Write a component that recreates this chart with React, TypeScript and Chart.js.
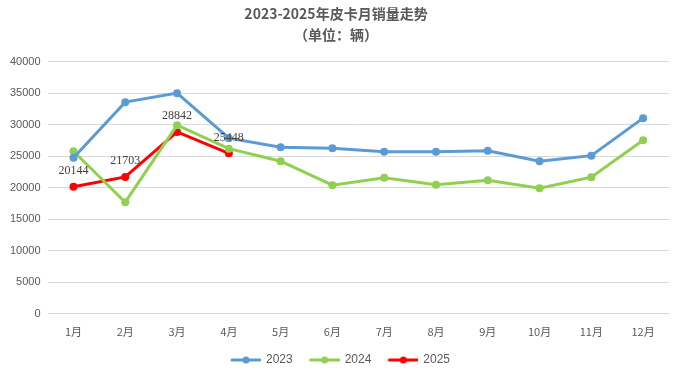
import React, { useEffect, useRef } from "react";
import { Chart, registerables } from "chart.js";

Chart.register(...registerables);

const months = ["1月", "2月", "3月", "4月", "5月", "6月", "7月", "8月", "9月", "10月", "11月", "12月"];
const sales2023 = [24760, 33570, 35000, 27860, 26430, 26270, 25710, 25710, 25870, 24200, 25080, 31030];
const sales2024 = [25790, 17700, 29920, 26190, 24200, 20400, 21590, 20480, 21190, 19920, 21670, 27540];
const sales2025 = [20144, 21703, 28842, 25448];
const yTicks = [0, 5000, 10000, 15000, 20000, 25000, 30000, 35000, 40000];

const titleLines = ["2023-2025年皮卡月销量走势", "（单位：辆）"];

function legendIcon(color: string) {
  const c = document.createElement("canvas");
  c.width = 40;
  c.height = 10;
  const ctx = c.getContext("2d")!;
  ctx.strokeStyle = color;
  ctx.lineWidth = 3;
  ctx.lineCap = "round";
  ctx.beginPath();
  ctx.moveTo(11, 5);
  ctx.lineTo(39, 5);
  ctx.stroke();
  ctx.fillStyle = color;
  ctx.beginPath();
  ctx.arc(25, 5, 3.5, 0, Math.PI * 2);
  ctx.fill();
  return c;
}

const labelPlugin = {
  id: "valueLabels",
  afterDatasetsDraw(chart: any) {
    const ctx = chart.ctx;
    const meta = chart.getDatasetMeta(2);
    ctx.save();
    ctx.font = "12px 'Liberation Serif', 'DejaVu Serif', serif";
    ctx.fillStyle = "#404040";
    ctx.textAlign = "center";
    ctx.textBaseline = "bottom";
    meta.data.forEach((pt: any, i: number) => {
      ctx.fillText(String(sales2025[i]), pt.x, pt.y - 10);
    });
    ctx.restore();
  },
};

export default function App() {
  const ref = useRef<HTMLCanvasElement>(null);
  useEffect(() => {
    document.body.style.margin = "0";
    const colors = ["#5b9bd5", "#8fd14f", "#ff0000"];
    const chart = new Chart(ref.current!, {
      type: "line",
      data: {
        labels: months,
        datasets: [
          { label: "2023", data: sales2023, borderColor: colors[0], backgroundColor: colors[0] },
          { label: "2024", data: sales2024, borderColor: colors[1], backgroundColor: colors[1] },
          { label: "2025", data: sales2025, borderColor: colors[2], backgroundColor: colors[2] },
        ],
      },
      options: {
        animation: false,
        responsive: false,
        layout: { padding: { left: 3, right: 11, top: 0, bottom: -6 } },
        elements: {
          line: { borderWidth: 3, tension: 0 },
          point: { radius: 4, hoverRadius: 4, borderWidth: 0 },
        },
        plugins: {
          title: {
            display: true,
            text: titleLines,
            color: "#595959",
            font: { size: 14, weight: "bold", family: "'Noto Sans CJK SC', sans-serif", lineHeight: 1.45 },
            padding: { top: 4, bottom: 17 },
          },
          legend: {
            position: "bottom",
            labels: {
              usePointStyle: true,
              pointStyleWidth: 38,
              color: "#595959",
              font: { size: 12, family: "'Liberation Sans', Arial, sans-serif" },
              padding: 8,
              generateLabels: (ch: any) =>
                ch.data.datasets.map((ds: any, i: number) => ({
                  text: ds.label,
                  fontColor: "#595959",
                  pointStyle: legendIcon(colors[i]),
                  datasetIndex: i,
                  hidden: false,
                  lineWidth: 0,
                  strokeStyle: "transparent",
                  fillStyle: colors[i],
                })),
            },
          },
          tooltip: { enabled: false },
        },
        scales: {
          x: {
            offset: true,
            grid: { display: false },
            border: { display: false },
            afterFit: (axis: any) => {
              axis.height += 5;
            },
            ticks: {
              color: "#595959",
              font: { size: 11, family: "'Noto Sans CJK SC', sans-serif" },
              padding: 3,
            },
          },
          y: {
            min: 0,
            max: 40000,
            afterBuildTicks: (axis: any) => {
              axis.ticks = yTicks.map((v) => ({ value: v }));
            },
            grid: { color: "#d9d9d9", lineWidth: 1, drawTicks: false },
            border: { display: false },
            ticks: {
              color: "#595959",
              font: { size: 11, family: "'Liberation Sans', Arial, sans-serif" },
              padding: 7,
              callback: (v: any) => String(v),
            },
          },
        },
      },
      plugins: [labelPlugin],
    });
    return () => chart.destroy();
  }, []);
  return <canvas ref={ref} width={680} height={370} style={{ display: "block" }} />;
}
